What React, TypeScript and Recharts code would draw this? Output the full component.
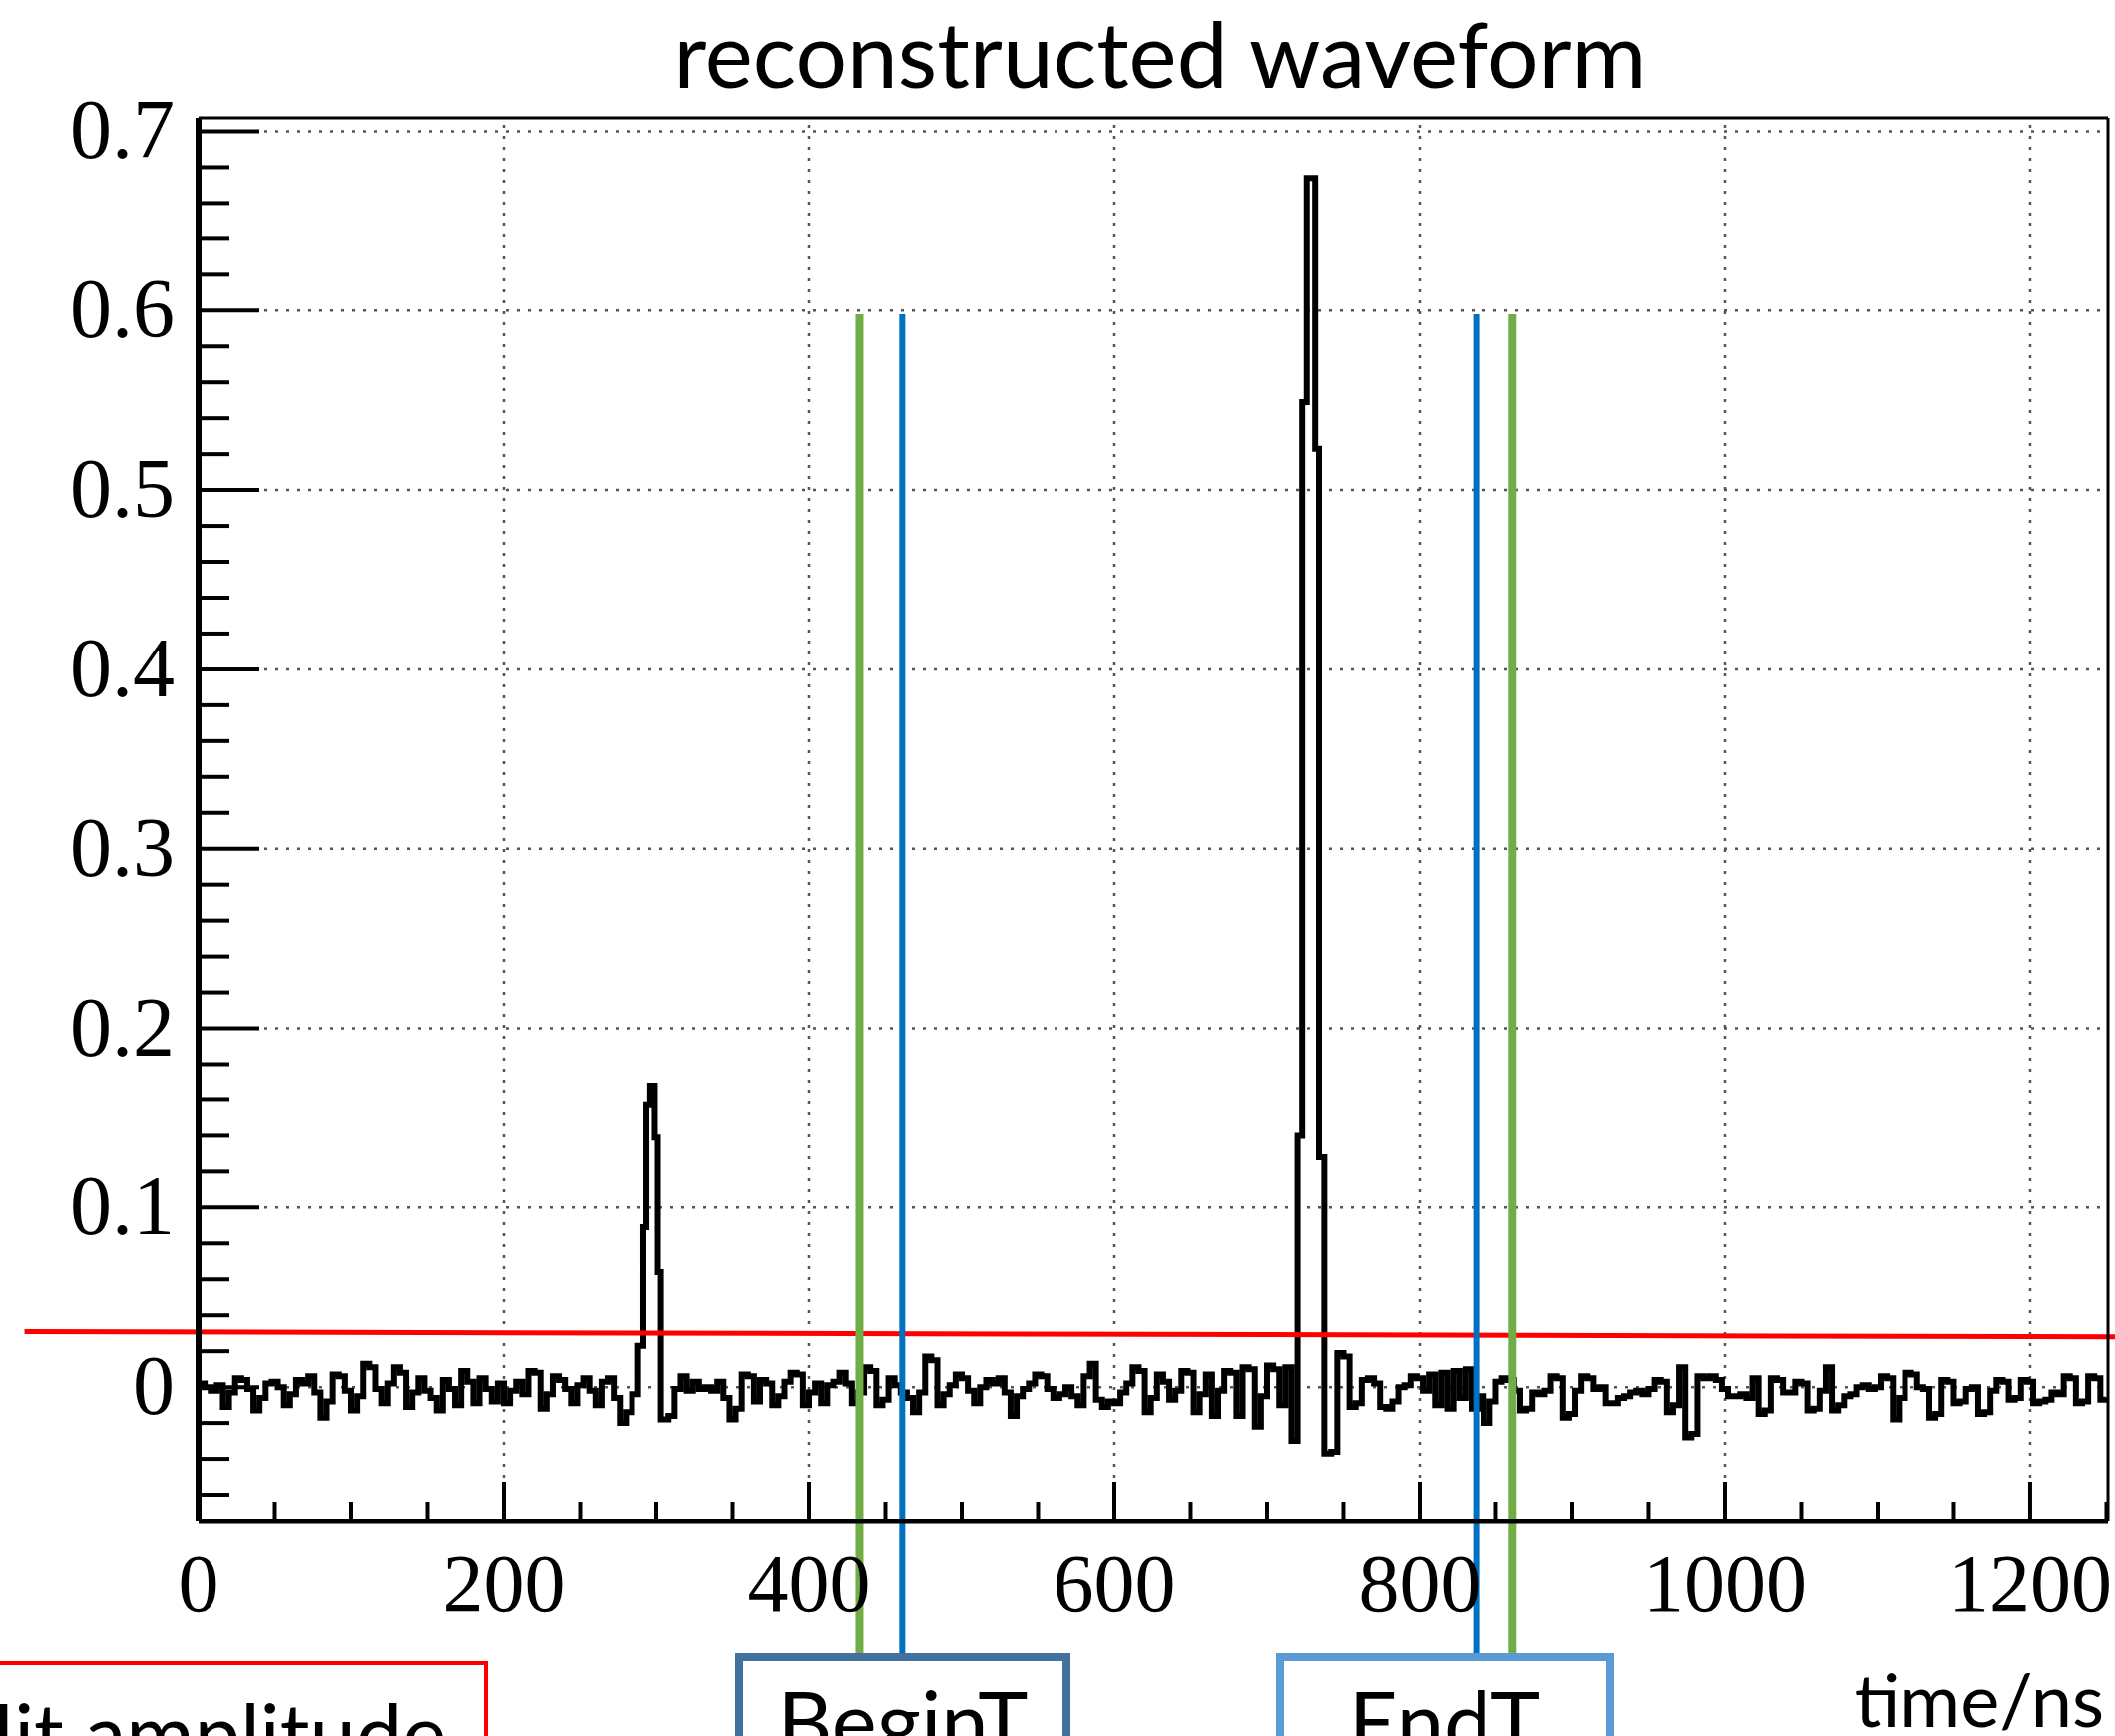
import { LineChart, Line, XAxis, YAxis, ReferenceLine } from 'recharts'

// waveform, [time ns, amplitude x1000]
const BASELINE_BEFORE: [number, number][] = [
  [0, 2], [4, 0], [8, -2], [12, 1], [16, -11], [20, -3], [24, 5], [28, 4], [32, -1], [36, -13],
  [40, -6], [44, 2], [48, 3], [52, 0], [56, -10], [60, -4], [64, 4], [68, 2], [72, 6], [76, -3],
  [80, -17], [84, -8], [88, 7], [92, 6], [96, -2], [100, -13], [104, -5], [108, 13], [112, 11], [116, -1],
  [120, -9], [124, 2], [128, 11], [132, 8], [136, -11], [140, -3], [144, 5], [148, -2], [152, -6], [156, -13],
  [160, 4], [164, -1], [168, -10], [172, 9], [176, 3], [180, -9], [184, 5], [188, -1], [192, -8], [196, 2],
  [200, -9], [204, -2], [208, 3], [212, -4], [216, 9], [220, 8], [224, -12], [228, -4], [232, 6], [236, 4],
  [240, -1], [244, -9], [248, 1], [252, 5], [256, -2], [260, -10], [264, 3], [268, 5], [272, -6], [276, -20],
  [280, -14], [284, -4],
]
const FIRST_PULSE: [number, number][] = [
  [288, 23], [291.5, 89], [293.5, 157], [296, 168], [299, 139], [301, 64], [303, -18],
]
const BASELINE_MIDDLE: [number, number][] = [
  [308, -16], [312, -1], [316, 6], [320, -2], [324, 3], [328, -1], [332, 0], [336, -2], [340, 3], [344, -6],
  [348, -18], [352, -12], [356, 7], [360, 6], [364, -8], [368, 4], [372, 2], [376, -10], [380, -5], [384, 3],
  [388, 8], [392, 7], [396, -10], [400, -3], [404, 2], [408, -9], [412, 1], [416, 3], [420, 8], [424, 2],
  [428, -9], [432, -3], [436, 11], [440, 9], [444, -10], [448, -7], [452, 5], [456, 1], [460, -3], [464, -6],
  [468, -14], [472, -3], [476, 17], [480, 15], [484, -10], [488, -4], [492, 1], [496, 7], [500, 5], [504, -2],
  [508, -9], [512, 0], [516, 4], [520, 2], [524, 5], [528, -3], [532, -16], [536, -5], [540, -1], [544, 2],
  [548, 7], [552, 6], [556, -1], [560, -6], [564, -4], [568, 0], [572, -5], [576, -10], [580, 6], [584, 13],
  [588, -7], [592, -11], [596, -8], [600, -9], [604, -3], [608, 2], [612, 11], [616, 9], [620, -14], [624, -6],
  [628, 7], [632, 3], [636, -7], [640, -2], [644, 9], [648, 8], [652, -14], [656, -4], [660, 7], [664, -16],
  [668, -2], [672, 9], [676, 8], [680, -16], [684, 11], [688, 10], [692, -22], [696, -5], [700, 12], [704, 10],
  [708, -10], [712, 11], [716, -30],
]
const MAIN_PULSE: [number, number][] = [
  [720, 140], [723, 549], [726, 674], [731.5, 523], [734, 128], [737.5, -37],
]
const BASELINE_AFTER: [number, number][] = [
  [742, -36], [746, 19], [750, 17], [754, -11], [758, -9], [762, 4], [766, 5], [770, 2], [774, -11], [778, -12],
  [782, -8], [786, 0], [790, 1], [794, 6], [798, 5], [802, -2], [806, 7], [810, -10], [814, 8], [818, -12],
  [822, 9], [826, -6], [830, 10], [834, -12], [838, -5], [842, -20], [846, -8], [850, 3], [854, 5], [858, 4],
  [862, -2], [866, -13], [870, -12], [874, -3], [878, -4], [882, -2], [886, 6], [890, 5], [894, -17], [898, -15],
  [902, -2], [906, 6], [910, 5], [914, -1], [918, 0], [922, -9], [926, -9], [930, -6], [934, -5], [938, -3],
  [942, -2], [946, -4], [950, -1], [954, 4], [958, 3], [962, -14], [966, -10], [970, 11], [974, -28], [978, -26],
  [982, 6], [986, 5], [990, 6], [994, 4], [998, -1], [1002, -5], [1006, -5], [1010, -4], [1014, -6], [1018, 5],
  [1022, -15], [1026, -13], [1030, 5], [1034, 4], [1038, -3], [1042, -3], [1046, 3], [1050, 2], [1054, -13], [1058, -12],
  [1062, -2], [1066, 11], [1070, -13], [1074, -10], [1078, -5], [1082, -4], [1086, 0], [1090, 1], [1094, -1], [1098, 0],
  [1102, 6], [1106, 5], [1110, -18], [1114, -6], [1118, 8], [1122, 7], [1126, 0], [1130, -1], [1134, -17], [1138, -15],
  [1142, 4], [1146, 3], [1150, -9], [1154, -8], [1158, -1], [1162, 0], [1166, -15], [1170, -14], [1174, -2], [1178, 4],
  [1182, 3], [1186, -7], [1190, -6], [1194, 4], [1198, 3], [1202, -9], [1206, -8], [1210, -7], [1214, -3], [1218, -4],
  [1222, 6], [1226, 5], [1230, -9], [1234, -8], [1238, 6], [1242, 5], [1246, -7], [1250, -6],
]

const X_MAJOR = [0, 200, 400, 600, 800, 1000, 1200]
const X_MINOR = [50, 100, 150, 250, 300, 350, 450, 500, 550, 650, 700, 750, 850, 900, 950, 1050, 1100, 1150, 1250]
const Y_MAJOR = [0, 0.1, 0.2, 0.3, 0.4, 0.5, 0.6, 0.7]
const Y_MINOR = [
  -0.06, -0.04, -0.02, 0.02, 0.04, 0.06, 0.08, 0.12, 0.14, 0.16, 0.18, 0.22, 0.24, 0.26, 0.28,
  0.32, 0.34, 0.36, 0.38, 0.42, 0.44, 0.46, 0.48, 0.52, 0.54, 0.56, 0.58, 0.62, 0.64, 0.66, 0.68,
]

// threshold (slightly tilted) and the BeginT / EndT markers
const THRESHOLD: [number, number][] = [[-114, 0.031], [1256, 0.028]]
const BEGIN_T = { green: 433, blue: 461 }
const END_T = { blue: 837, green: 861 }
const MARKER_TOP = 0.598
const MARKER_BOTTOM = -0.151

const X_DOMAIN: [number, number] = [0, 1251]
const Y_DOMAIN: [number, number] = [-0.075, 0.7075]

const SERIF = '"Liberation Serif", "DejaVu Serif", serif'
const SANS = 'Lato, "Open Sans", sans-serif'

const data = [...BASELINE_BEFORE, ...FIRST_PULSE, ...BASELINE_MIDDLE, ...MAIN_PULSE, ...BASELINE_AFTER]
  .map(([t, a]) => ({ t, amp: a / 1000 }))

const isMajor = (list: number[], v: number) => list.some(m => Math.abs(m - v) < 1e-6)

function XTick(props: any) {
  const { x, y, payload } = props
  const major = isMajor(X_MAJOR, payload.value)
  return (
    <g>
      <line x1={x} x2={x} y1={y} y2={y - (major ? 40 : 20)} stroke="#000" strokeWidth={4} />
      {major && (
        <text x={x} y={y + 90} textAnchor="middle" fontFamily={SERIF} fontSize={82} fill="#000">
          {payload.value}
        </text>
      )}
    </g>
  )
}

function YTick(props: any) {
  const { x, y, payload } = props
  const v = payload.value
  const major = isMajor(Y_MAJOR, v)
  return (
    <g>
      <line x1={x} x2={x + (major ? 61 : 31)} y1={y} y2={y} stroke="#000" strokeWidth={4} />
      {major && (
        <text x={x - 24} y={y} dy={27} textAnchor="end" fontFamily={SERIF} fontSize={84} fill="#000">
          {Math.abs(v) < 1e-9 ? '0' : v.toFixed(1)}
        </text>
      )}
    </g>
  )
}

const grid = { stroke: '#555', strokeWidth: 2.5, strokeDasharray: '3 8' }

export default function App() {
  return (
    <div style={{ position: 'absolute', left: 0, top: 0, width: 2120, height: 1740, background: '#fff', overflow: 'hidden' }}>
      <LineChart width={2120} height={1740} data={data} margin={{ top: 117, right: 6, bottom: 214, left: 198 }}>
        {X_MAJOR.slice(1).map(v => (
          <ReferenceLine key={'gx' + v} x={v} {...grid} />
        ))}
        {Y_MAJOR.map(v => (
          <ReferenceLine key={'gy' + v} y={v} {...grid} />
        ))}
        <XAxis
          dataKey="t"
          type="number"
          domain={X_DOMAIN}
          ticks={[...X_MAJOR, ...X_MINOR].sort((a, b) => a - b)}
          interval={0}
          height={1}
          tickSize={0}
          tickMargin={0}
          tick={<XTick />}
          axisLine={{ stroke: '#000', strokeWidth: 5 }}
          allowDataOverflow
        />
        <XAxis xAxisId="top" orientation="top" type="number" domain={X_DOMAIN} height={1} tick={false} tickLine={false} axisLine={{ stroke: '#000', strokeWidth: 3 }} />
        <YAxis
          type="number"
          domain={Y_DOMAIN}
          ticks={[...Y_MAJOR, ...Y_MINOR].sort((a, b) => a - b)}
          interval={0}
          width={1}
          tickSize={0}
          tickMargin={0}
          tick={<YTick />}
          axisLine={{ stroke: '#000', strokeWidth: 6 }}
          allowDataOverflow
        />
        <YAxis yAxisId="right" orientation="right" type="number" domain={Y_DOMAIN} width={1} tick={false} tickLine={false} axisLine={{ stroke: '#000', strokeWidth: 3 }} />
        <Line
          type="stepAfter"
          dataKey="amp"
          stroke="#000"
          strokeWidth={6}
          dot={false}
          activeDot={false}
          isAnimationActive={false}
        />
        <ReferenceLine
          segment={[{ x: THRESHOLD[0][0], y: THRESHOLD[0][1] }, { x: THRESHOLD[1][0], y: THRESHOLD[1][1] }]}
          stroke="#ff0000"
          strokeWidth={5}
          ifOverflow="visible"
        />
        {[
          { x: BEGIN_T.green, c: '#70ad47', w: 8 },
          { x: BEGIN_T.blue, c: '#0070c0', w: 6 },
          { x: END_T.blue, c: '#0070c0', w: 6 },
          { x: END_T.green, c: '#70ad47', w: 8 },
        ].map(m => (
          <ReferenceLine
            key={'m' + m.x}
            segment={[{ x: m.x, y: MARKER_TOP }, { x: m.x, y: MARKER_BOTTOM }]}
            stroke={m.c}
            strokeWidth={m.w}
            ifOverflow="visible"
          />
        ))}
      </LineChart>

      {/* title, axis unit and the annotation boxes */}
      <svg width={2120} height={1740} style={{ position: 'absolute', left: 0, top: 0, pointerEvents: 'none' }}>
        <text x={1163} y={88} textAnchor="middle" fontFamily={SANS} fontSize={91} fill="#000">
          reconstructed waveform
        </text>
        <text x={2109} y={1731} textAnchor="end" fontFamily={SANS} fontSize={74} fill="#000">
          time/ns
        </text>
        <rect x={-20} y={1667} width={507} height={200} fill="none" stroke="#ff0000" strokeWidth={4} />
        <text x={447} y={1768} textAnchor="end" fontFamily={SANS} fontSize={83} fill="#000">
          Hit amplitude
        </text>
        <rect x={741} y={1661} width={328} height={200} fill="none" stroke="#41719c" strokeWidth={8} />
        <text x={905} y={1757} textAnchor="middle" fontFamily={SANS} fontSize={85} fill="#000">
          BeginT
        </text>
        <rect x={1283} y={1661} width={331} height={200} fill="none" stroke="#5b9bd5" strokeWidth={8} />
        <text x={1448} y={1757} textAnchor="middle" fontFamily={SANS} fontSize={85} fill="#000">
          EndT
        </text>
      </svg>
    </div>
  )
}
